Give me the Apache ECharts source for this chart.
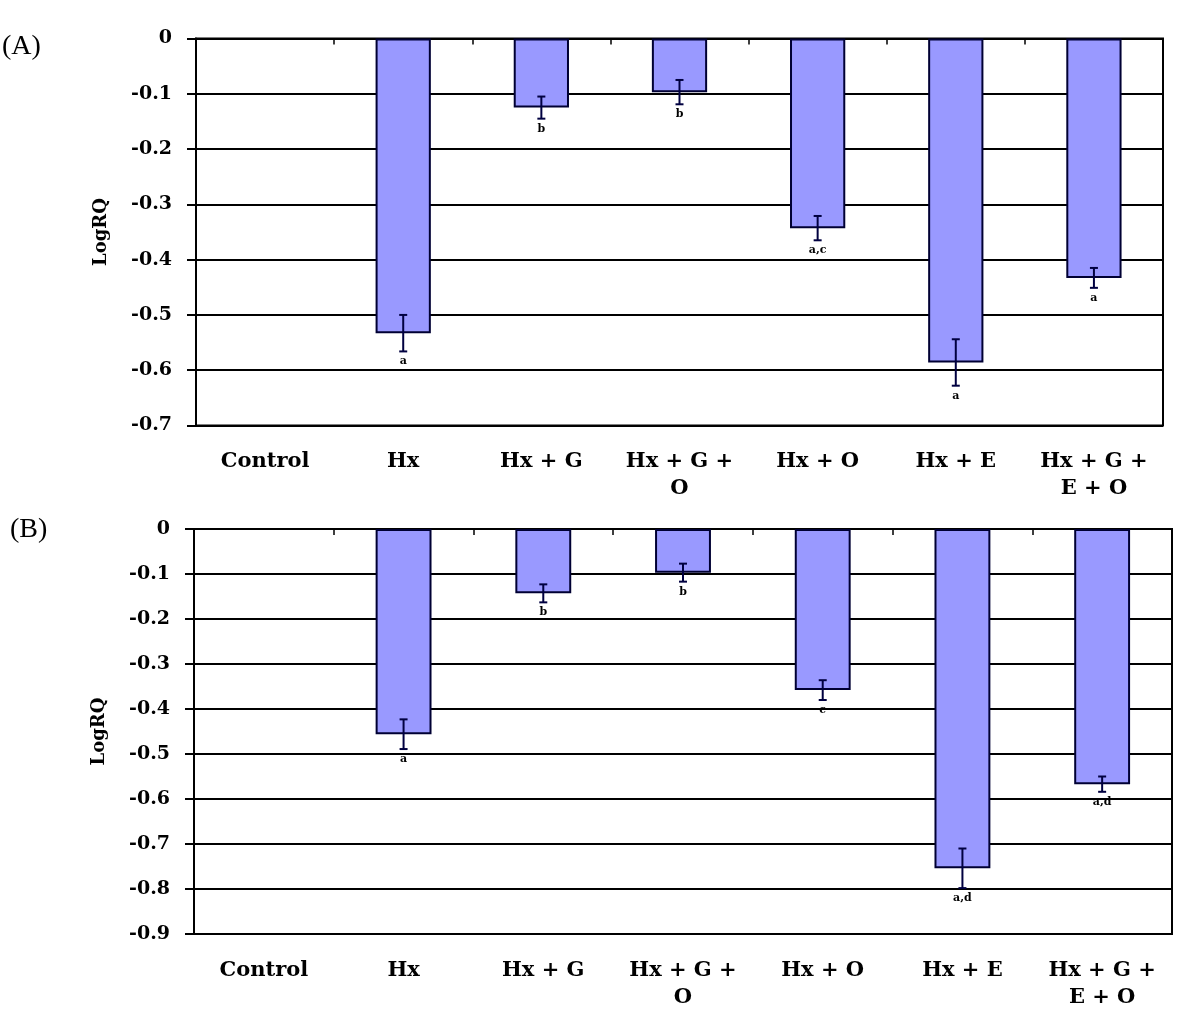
<!DOCTYPE html>
<html>
<head>
<meta charset="utf-8">
<script src="https://cdn.jsdelivr.net/npm/echarts@6/dist/echarts.min.js"></script>
<style>html,body{margin:0;padding:0;background:#fff;}#c{width:1200px;height:1017px;}</style>
</head>
<body>
<div id="c"></div>
<script>
const categories = ['Control', 'Hx', 'Hx + G', 'Hx + G +\nO', 'Hx + O', 'Hx + E', 'Hx + G +\nE + O'];
const valuesA = [0, -0.533, -0.125, -0.097, -0.343, -0.586, -0.433];
const errorsA = [0, 0.033, 0.02, 0.022, 0.022, 0.042, 0.018];
const lettersA = ['', 'a', 'b', 'b', 'a,c', 'a', 'a'];
const valuesB = [0, -0.456, -0.143, -0.097, -0.358, -0.754, -0.567];
const errorsB = [0, 0.033, 0.02, 0.02, 0.022, 0.044, 0.017];
const lettersB = ['', 'a', 'b', 'b', 'c', 'a,d', 'a,d'];
const yMinA = -0.7, yMinB = -0.9;

const serif = '"DejaVu Serif", serif';
const times = '"Liberation Serif", "Times New Roman", serif';
const chart = echarts.init(document.getElementById('c'), null, {renderer: 'canvas'});

function barData(vals) {
  // a zero value is drawn as no bar (as in the reference)
  return vals.map(v => (v === 0 ? '-' : v));
}
function errData(vals, errs, letters) {
  return vals.map((v, i) => [i, v, errs[i], letters[i]]);
}
function renderErr(params, api) {
  const i = api.value(0), v = api.value(1), e = api.value(2);
  if (!e) return null;
  const letter = api.value(3);
  const top = api.coord([i, v + e]);
  const bot = api.coord([i, v - e]);
  const cw = 4;
  const st = {stroke: '#000040', lineWidth: 2};
  return {
    type: 'group',
    children: [
      {type: 'line', shape: {x1: top[0], y1: top[1], x2: bot[0], y2: bot[1]}, style: st},
      {type: 'line', shape: {x1: top[0] - cw, y1: top[1], x2: top[0] + cw, y2: top[1]}, style: st},
      {type: 'line', shape: {x1: bot[0] - cw, y1: bot[1], x2: bot[0] + cw, y2: bot[1]}, style: st},
      {type: 'text', x: bot[0], y: bot[1] + 10, style: {text: letter, fill: '#000', font: 'bold 11px ' + serif, align: 'center', verticalAlign: 'middle'}}
    ]
  };
}

function xAxes(gridIndex) {
  return [
    {type: 'category', gridIndex, data: categories, position: 'bottom',
     axisLine: {show: false}, axisTick: {show: false},
     axisLabel: {color: '#000', fontFamily: serif, fontWeight: 'bold', fontSize: 21, margin: 23, lineHeight: 27, interval: 0}},
    {type: 'category', gridIndex, data: categories, position: 'top',
     axisLine: {show: false}, axisTick: {show: true, inside: true, length: 6, lineStyle: {color: '#000', width: 1.5}},
     axisLabel: {show: false}}
  ];
}
function yAxis(gridIndex, min) {
  return {type: 'value', gridIndex, min, max: 0, interval: 0.1,
    name: 'LogRQ', nameLocation: 'middle', nameRotate: 90, nameGap: 86,
    nameTextStyle: {color: '#000', fontFamily: serif, fontWeight: 'bold', fontSize: 18},
    axisLine: {show: true, lineStyle: {color: '#000', width: 2}},
    axisTick: {show: true, length: 9, lineStyle: {color: '#000', width: 2}},
    axisLabel: {color: '#000', fontFamily: serif, fontWeight: 'bold', fontSize: 19, margin: 24},
    splitLine: {show: true, lineStyle: {color: '#000', width: 2}}};
}

chart.setOption({
  animation: false,
  backgroundColor: '#fff',
  grid: [
    {left: 196, top: 38.5, width: 967, height: 387, show: true, borderColor: '#000', borderWidth: 2},
    {left: 194, top: 529, width: 978, height: 405, show: true, borderColor: '#000', borderWidth: 2}
  ],
  xAxis: [...xAxes(0), ...xAxes(1)],
  yAxis: [yAxis(0, yMinA), yAxis(1, yMinB)],
  graphic: [
    {type: 'text', left: 2, top: 33, style: {text: '(A)', fill: '#000', font: '28px ' + times}},
    {type: 'text', left: 10, top: 516, style: {text: '(B)', fill: '#000', font: '28px ' + times}}
  ],
  series: [
    {type: 'bar', xAxisIndex: 0, yAxisIndex: 0, data: barData(valuesA), barWidth: '40%',
     itemStyle: {color: '#9999ff', borderColor: '#000033', borderWidth: 2}},
    {type: 'custom', xAxisIndex: 0, yAxisIndex: 0, data: errData(valuesA, errorsA, lettersA),
     renderItem: renderErr, encode: {x: 0, y: 1}, clip: false, z: 5},
    {type: 'bar', xAxisIndex: 2, yAxisIndex: 1, data: barData(valuesB), barWidth: '40%',
     itemStyle: {color: '#9999ff', borderColor: '#000033', borderWidth: 2}},
    {type: 'custom', xAxisIndex: 2, yAxisIndex: 1, data: errData(valuesB, errorsB, lettersB),
     renderItem: renderErr, encode: {x: 0, y: 1}, clip: false, z: 5}
  ]
});
</script>
</body>
</html>
